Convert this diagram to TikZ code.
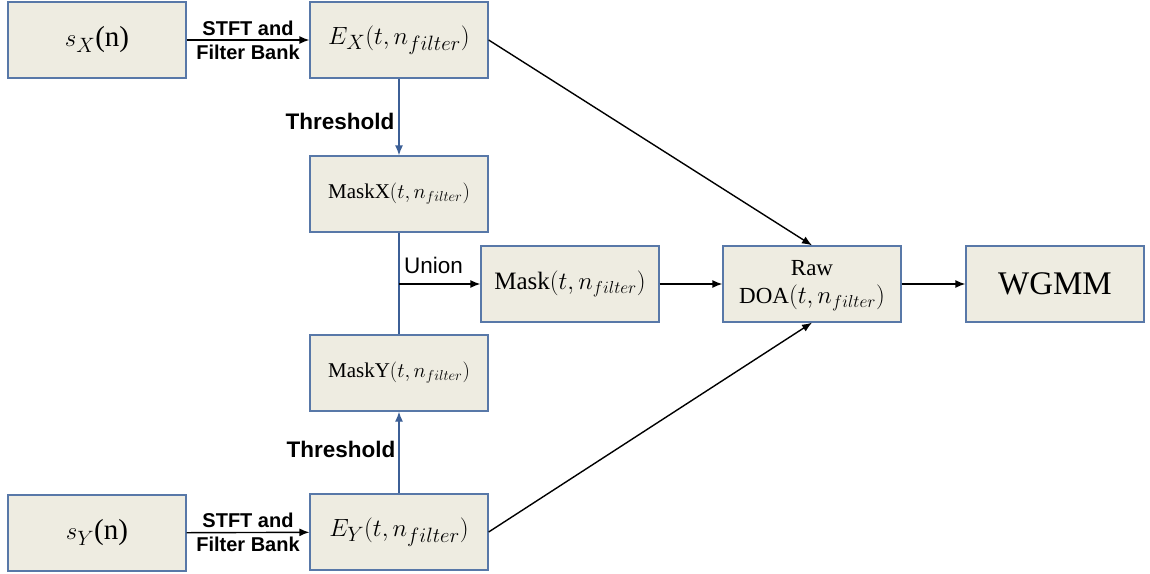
\documentclass[tikz,border=0pt]{standalone}
\usepackage{fontspec}
\setmainfont{Liberation Serif}
\setsansfont{Liberation Sans}
\usetikzlibrary{arrows.meta}
\definecolor{boxfill}{RGB}{238,236,225}
\definecolor{boxline}{RGB}{88,120,168}
\definecolor{blueline}{RGB}{60,95,150}
\tikzset{
  blk/.style={draw=boxline, line width=1.3pt, fill=boxfill, minimum width=178pt, minimum height=76pt, inner sep=0pt, anchor=center},
  arr/.style={line width=1.4pt, -{Latex[length=10pt,width=8pt]}},
  barr/.style={draw=blueline, line width=1.3pt, -{Latex[length=10pt,width=8pt]}},
  bline/.style={draw=blueline, line width=1.3pt},
  lbl/.style={font=\sffamily\bfseries\fontsize{20}{24}\selectfont, align=center, inner sep=0pt},
  tlbl/.style={font=\sffamily\bfseries\fontsize{22.5}{26}\selectfont, inner sep=0pt},
}
\begin{document}
\begin{tikzpicture}[x=1pt,y=-1pt]
\useasboundingbox (0,0) rectangle (1150,573);
\node[blk] (sX) at (97,40) {\fontsize{29}{32}\selectfont $s_X$(n)};
\node[blk] (EX) at (399,40) {\fontsize{31}{34}\selectfont $E_X(t,n_{filter})$};
\node[blk] (MX) at (399,194) {\fontsize{21}{24}\selectfont MaskX$(t,n_{filter})$};
\node[blk] (M) at (570,284) {\fontsize{25}{28}\selectfont Mask$(t,n_{filter})$};
\node[blk] (MY) at (399,373) {\fontsize{21}{24}\selectfont MaskY$(t,n_{filter})$};
\node[blk] (R) at (812,284) {\fontsize{23}{28}\selectfont\begin{tabular}{@{}c@{}}Raw\\DOA$(t,n_{filter})$\end{tabular}};
\node[blk] (W) at (1055,284) {\fontsize{33}{36}\selectfont WGMM};
\node[blk] (sY) at (97,533) {\fontsize{29}{32}\selectfont $s_Y$(n)};
\node[blk] (EY) at (399,532) {\fontsize{31}{34}\selectfont $E_Y(t,n_{filter})$};
\coordinate (j) at (399,284);
\draw[arr] (sX) -- node[lbl] {STFT and\\Filter Bank} (EX);
\draw[arr] (sY) -- node[lbl] {STFT and\\Filter Bank} (EY);
\draw[barr] (EX) -- (MX);
\draw[barr] (EY) -- (MY);
\draw[bline] (MX) -- (MY);
\node[tlbl] (t1) at (340,121) {Threshold};
\node[tlbl] (t2) at (341,449) {Threshold};
\draw[arr] (j) -- (M);
\node[font=\sffamily\fontsize{22.5}{26}\selectfont, inner sep=0pt, anchor=west] (u) at (404,265) {Union};
\draw[arr] (EX.east) -- (R.north);
\draw[arr] (EY.east) -- (R.south);
\draw[arr] (M) -- (R);
\draw[arr] (R) -- (W);
\end{tikzpicture}
\end{document}
